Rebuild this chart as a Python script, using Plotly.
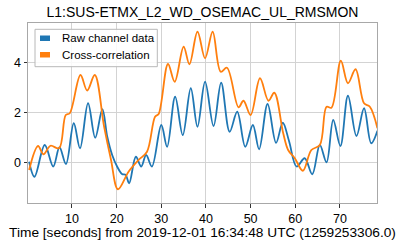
import plotly.graph_objects as go

title_text = "L1:SUS-ETMX_L2_WD_OSEMAC_UL_RMSMON"
xlabel = "Time [seconds] from 2019-12-01 16:34:48 UTC (1259253306.0)"
series_names = ["Raw channel data", "Cross-correlation"]

raw_t = [0.4, 1.6, 3.9, 5.8, 7.2, 8.65, 10.4, 11.8, 13.6, 15.2, 16.8, 17.9, 19.0, 20.1,
         21.2, 22.0, 22.8, 24.3, 25.5, 26.6, 27.9, 30.0, 31.3, 33.1, 34.8, 36.6, 38.1,
         39.8, 41.7, 43.4, 45.3, 47.0, 48.8, 50.5, 51.9, 53.8, 55.7, 57.2, 58.6, 60.3,
         62.1, 63.8, 65.5, 67.0, 68.5, 70.1, 71.8, 73.7, 75.4, 77.0, 78.4]
raw_v = [0.02, -0.58, 0.69, -0.17, 0.6, -0.07, 1.56, 0.56, 2.36, 0.98, 2.12, 1.02, 0.29, -0.17,
         -0.47, -0.5, -0.84, 0.22, -0.17, 0.29, -0.17, 1.49, 0.62, 2.62, 1.09, 2.96, 1.42,
         3.22, 1.45, 3.18, 1.22, 2.02, 0.62, 1.49, 0.52, 2.33, 0.78, 1.58, 0.85, -0.17,
         0.16, -0.48, 0.69, 0.0, 1.69, 0.65, 2.66, 1.05, 2.16, 0.76, 1.26]

xc_t = [0.4, 2.4, 3.6, 5.2, 7.1, 8.6, 9.5, 11.9, 13.4, 15.1, 17.2, 18.7, 20.3, 22.7, 24.9,
        26.8, 28.6, 29.4, 31.5, 33.0, 35.0, 36.3, 38.1, 39.8, 41.5, 43.3, 44.7, 47.3, 48.4,
        50.0, 52.1, 54.0, 55.3, 57.3, 58.4, 59.9, 61.7, 63.6, 65.5, 67.0, 68.1, 70.2, 71.8,
        73.5, 75.4, 76.7, 78.4]
xc_v = [-0.31, 0.65, 0.32, 0.66, 0.56, 1.89, 1.96, 3.49, 2.87, 3.49, 1.42, 0.13, -1.08, -0.37, 0.09,
        0.42, 1.82, 1.93, 3.93, 3.22, 4.62, 3.92, 5.22, 4.16, 5.22, 3.62, 3.78, 2.2, 2.46,
        1.89, 3.36, 2.46, 2.78, 1.16, 0.49, 0.16, -0.34, 0.49, 0.69, 2.22, 2.18, 4.06, 3.16,
        3.72, 2.36, 2.22, 1.36]

colors = ["#1f77b4", "#ff7f0e"]

W, H = 407, 248
L, R, T, B = 28, 377, 23, 203
pw, ph = R - L, B - T

def px(x):
    return (x - L) / pw

def py(y):
    return (B - y) / ph

fig = go.Figure()
fig.add_trace(go.Scatter(x=raw_t, y=raw_v, mode="lines", name=series_names[0],
                         line=dict(color=colors[0], width=1.8, shape="spline", smoothing=1.0)))
fig.add_trace(go.Scatter(x=xc_t, y=xc_v, mode="lines", name=series_names[1],
                         line=dict(color=colors[1], width=1.8, shape="spline", smoothing=1.0)))

font_family = "Liberation Sans, Arial, sans-serif"

shapes = [
    dict(type="rect", xref="paper", yref="paper", x0=px(35), x1=px(157.3), y0=py(66.7), y1=py(29.3),
         line=dict(color="#b8b8b8", width=1), fillcolor="rgba(255,255,255,0.85)", layer="above"),
    dict(type="rect", xref="paper", yref="paper", x0=px(40), x1=px(50), y0=py(41), y1=py(35.5),
         line=dict(width=0), fillcolor=colors[0], layer="above"),
    dict(type="rect", xref="paper", yref="paper", x0=px(40), x1=px(50), y0=py(57.5), y1=py(52),
         line=dict(width=0), fillcolor=colors[1], layer="above"),
]
annotations = [
    dict(xref="paper", yref="paper", x=px(60), y=py(38.3), text=series_names[0], showarrow=False,
         xanchor="left", yanchor="middle", font=dict(family=font_family, size=11.5, color="black")),
    dict(xref="paper", yref="paper", x=px(60), y=py(54.8), text=series_names[1], showarrow=False,
         xanchor="left", yanchor="middle", font=dict(family=font_family, size=11.5, color="black")),
]

fig.update_layout(
    width=W, height=H,
    margin=dict(l=L, r=W - R, t=T, b=H - B, pad=0, autoexpand=False),
    paper_bgcolor="white", plot_bgcolor="white",
    showlegend=False,
    hovermode=False,
    title=dict(text=title_text, x=(L + R) / 2 / W, xanchor="center", y=1 - 12 / H, yanchor="middle",
               font=dict(family=font_family, size=14, color="black")),
    font=dict(family=font_family, color="black"),
    shapes=shapes, annotations=annotations,
)
fig.update_xaxes(range=[0.15, 78.3], dtick=10, tick0=0, showgrid=True, gridcolor="#d3d3d3", gridwidth=1,
                 zeroline=False, showline=True, linecolor="#a8a8a8", linewidth=1, mirror=True,
                 ticks="outside", ticklen=3.5, tickcolor="#333", tickfont=dict(size=12.5),
                 automargin=False,
                 title=dict(text=xlabel, font=dict(size=13.7), standoff=2))
fig.update_yaxes(range=[-1.63, 5.57], dtick=2, tick0=0, showgrid=True, gridcolor="#d3d3d3", gridwidth=1,
                 zeroline=False, showline=True, linecolor="#a8a8a8", linewidth=1, mirror=True,
                 ticks="outside", ticklen=3.5, tickcolor="#333", tickfont=dict(size=12.5),
                 automargin=False)

fig.write_html("out.html",
               config={"displayModeBar": False, "staticPlot": True},
               post_script=("document.documentElement.style.overflow='hidden';"
                            "document.body.style.margin='0';document.body.style.padding='0';"
                            "document.body.style.overflow='hidden';"))
